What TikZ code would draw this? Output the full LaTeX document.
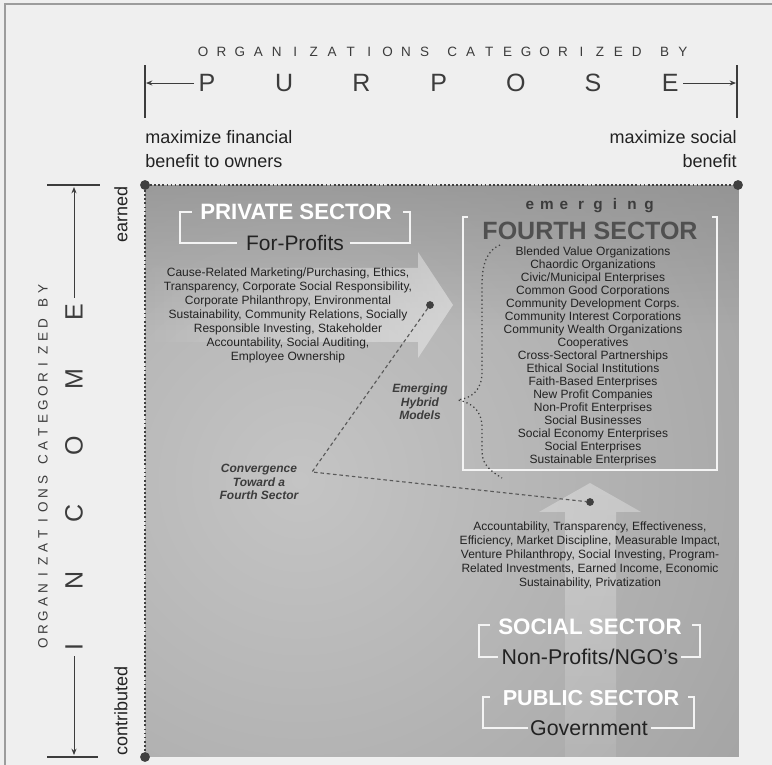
\documentclass[tikz,border=0pt]{standalone}
\usepackage{fontspec}
\setmainfont{Liberation Sans}
\usetikzlibrary{arrows.meta, fadings}

\definecolor{pagebg}{HTML}{EFEFEF}
\definecolor{framegray}{HTML}{9C9C9C}
\definecolor{sqlight}{HTML}{C4C4C4}
\definecolor{sqdark}{HTML}{888888}
\definecolor{inkdark}{HTML}{222222}
\definecolor{inkmid}{HTML}{3C3C3C}
\definecolor{dotgray}{HTML}{404040}
\definecolor{bracketwhite}{HTML}{F4F4F4}

\tikzfading[name=fadeleft, left color=transparent!100, right color=transparent!0]
\tikzfading[name=fadetop, top color=transparent!0, bottom color=transparent!100]
\tikzfading[name=fadeup, top color=transparent!0, bottom color=transparent!70]

% sizes are given in pt, the picture is laid out in pixels of the scan
\newcommand{\pxfont}[2]{\fontsize{#1}{#2}\selectfont}
\def\titleletters{O/0,R/1,G/2,A/3,N/4,I/5,Z/6,A/7,T/8,I/9,O/10,N/11,S/12,C/13.5,A/14.5,T/15.5,E/16.5,G/17.5,O/18.5,R/19.5,I/20.5,Z/21.5,E/22.5,D/23.5,B/25,Y/26}

\begin{document}
\begin{tikzpicture}[x=0.025cm, y=-0.025cm,
    every node/.style={inner sep=0pt},
    axisbar/.style={draw=inkmid, line width=0.8pt},
    axisarr/.style={-{Stealth[length=4.5pt,width=3.6pt]}, draw=inkmid, line width=0.7pt},
    spaced/.style={font=\pxfont{9.6}{10}, text=inkmid},
    bigletter/.style={font=\pxfont{17.8}{18}, text=inkmid},
    endnote/.style={font=\pxfont{12.8}{17.07}, text=inkdark},
    bracket/.style={draw=bracketwhite, line width=1pt},
    sectortitle/.style={font=\bfseries\pxfont{15.8}{16}, text=white},
    sectorsub/.style={font=\pxfont{14.9}{15}, text=inkdark},
    blocktext/.style={font=\pxfont{8.54}{9.96}, text=inkdark, align=center},
    listtext/.style={font=\pxfont{8.54}{9.25}, text=inkdark, align=center},
    hybridnote/.style={font=\bfseries\itshape\pxfont{8.54}{9.6}, text=inkmid, align=center},
    border/.style={draw=dotgray, line width=1.4pt, dash pattern=on 1.3pt off 1.6pt},
    convline/.style={draw=inkmid!85, line width=0.8pt, dash pattern=on 2.5pt off 2pt},
    corner/.style={circle, fill=dotgray, minimum size=7pt},
    pathdot/.style={circle, fill=dotgray, minimum size=5.5pt}
  ]
  \useasboundingbox (0,0) rectangle (772,765);
  \fill[pagebg] (0,0) rectangle (772,765);
  \draw[framegray, line width=0.8pt] (5,765) -- (5,4) -- (772,4);

  % the field
  \begin{scope}
    \clip (145,185) rectangle (739,757);
    \shade[inner color=sqlight, outer color=sqdark] (300,480) circle (1000);
    \fill[sqdark, fill opacity=0.55, path fading=fadetop] (145,185) rectangle (739,330);
    % faint arrows behind the text
    \fill[white, fill opacity=0.42, path fading=fadeleft]
      (145,268) -- (418,268) -- (418,252) -- (453,305) -- (418,358) -- (418,342) -- (145,342) -- cycle;
    \fill[white, fill opacity=0.32, path fading=fadeup]
      (565,757) -- (565,512) -- (539,512) -- (590,483) -- (641,512) -- (616,512) -- (616,757) -- cycle;
  \end{scope}
  \draw[white!88!gray, line width=0.6pt] (739,185) -- (739,757) -- (145,757);

  % purpose axis
  \foreach \ch/\k [count=\i] in \titleletters
    \node[spaced] (th-\i) at ({203+\k*18.46},52) {\ch};
  \foreach \ch [count=\i] in {P,U,R,P,O,S,E}
    \node[bigletter] (pu-\i) at ({207+(\i-1)*77.2},83) {\ch};
  \coordinate (purL) at (146,83);
  \coordinate (purR) at (736,83);
  \draw[axisbar] (145,65) -- (145,118);
  \draw[axisbar] (737,65) -- (737,118);
  \draw[axisarr, shorten <=3pt] (pu-1.west) -- (purL);
  \draw[axisarr, shorten <=3pt] (pu-7.east) -- (purR);
  \node[endnote, align=left, anchor=west] (finben) at (145,149) {maximize financial\\benefit to owners};
  \node[endnote, align=right, anchor=east] (socben) at (737,149) {maximize social\\benefit};

  % income axis
  \foreach \ch/\k [count=\i] in \titleletters
    \node[spaced, rotate=90] (tv-\i) at (43,{643-\k*13.6}) {\ch};
  \foreach \ch [count=\i] in {I,N,C,O,M,E}
    \node[bigletter, rotate=90] (inc-\i) at (74,{647-(\i-1)*67}) {\ch};
  \coordinate (incT) at (74,187);
  \coordinate (incB) at (74,755);
  \draw[axisbar] (47,185) -- (100,185);
  \draw[axisbar] (47,757) -- (98,757);
  \draw[axisarr, shorten <=4pt] (inc-6.east) -- (incT);
  \draw[axisarr, shorten <=4pt] (inc-1.west) -- (incB);
  \node[endnote, rotate=90, anchor=east] (earned) at (121,186) {earned};
  \node[endnote, rotate=90, anchor=west] (contrib) at (121,756) {contributed};

  % corners of the field
  \node[corner] (c-tl) at (145,185) {};
  \node[corner] (c-tr) at (738,185) {};
  \node[corner] (c-bl) at (145,757) {};
  \draw[border] (c-tl) -- (c-tr);
  \draw[border] (c-tl) -- (c-bl);

  % private sector
  \node[sectortitle] (priv) at (296,212) {PRIVATE SECTOR};
  \node[sectorsub] (forprof) at (295,243) {For-Profits};
  \draw[bracket] (192,212) -- (180,212) -- (180,243) -- (237,243);
  \draw[bracket] (350,243) -- (410,243) -- (410,212) -- (403,212);
  \node[blocktext] (privlist) at (288,315) {Cause-Related Marketing/Purchasing, Ethics,\\
    Transparency, Corporate Social Responsibility,\\Corporate Philanthropy, Environmental\\
    Sustainability, Community Relations, Socially\\Responsible Investing, Stakeholder\\
    Accountability, Social Auditing,\\Employee Ownership};

  % fourth sector
  \foreach \ch [count=\i] in {e,m,e,r,g,i,n,g}
    \node[font=\bfseries\pxfont{10.9}{11}, text=inkmid, anchor=base] (em-\i) at ({530+(\i-1)*17},209) {\ch};
  \node[font=\bfseries\pxfont{17.8}{18}, text=inkmid!90] (fourth) at (590,231) {FOURTH SECTOR};
  \draw[bracket] (468,217) -- (463,217) -- (463,470) -- (717,470) -- (717,217) -- (712,217);
  \node[listtext] (fourlist) at (593,356) {Blended Value Organizations\\Chaordic Organizations\\
    Civic/Municipal Enterprises\\Common Good Corporations\\Community Development Corps.\\
    Community Interest Corporations\\Community Wealth Organizations\\Cooperatives\\
    Cross-Sectoral Partnerships\\Ethical Social Institutions\\Faith-Based Enterprises\\
    New Profit Companies\\Non-Profit Enterprises\\Social Businesses\\
    Social Economy Enterprises\\Social Enterprises\\Sustainable Enterprises};

  % hybrids and convergence
  \node[hybridnote] (hybrid) at (420,402) {Emerging\\Hybrid\\Models};
  \draw[dotgray, line width=0.9pt, dotted]
    (500,245) .. controls (488,250) and (482,262) .. (482,285) -- (482,372)
    .. controls (482,390) and (472,398) .. (458,400)
    .. controls (472,403) and (482,410) .. (482,428) -- (482,452)
    .. controls (482,465) and (492,472) .. (502,478);
  \node[pathdot] (dot-priv) at (430,305) {};
  \node[pathdot] (dot-soc) at (590,502) {};
  \coordinate (conv) at (312,472);
  \draw[convline] (dot-priv) -- (conv) -- (dot-soc);
  \node[hybridnote] (convnote) at (259,482) {Convergence\\Toward a\\Fourth Sector};

  % social and public sectors
  \node[blocktext] (soclist) at (590,555) {Accountability, Transparency, Effectiveness,\\
    Efficiency, Market Discipline, Measurable Impact,\\Venture Philanthropy, Social Investing, Program-\\
    Related Investments, Earned Income, Economic\\Sustainability, Privatization};
  \node[sectortitle, font=\bfseries\pxfont{15.9}{16}] (soc) at (590,627) {SOCIAL SECTOR};
  \node[sectorsub, font=\pxfont{15.2}{15}] (ngo) at (590,657) {Non-Profits/NGO's};
  \draw[bracket] (490,625) -- (479,625) -- (479,657) -- (498,657);
  \draw[bracket] (681,657) -- (700,657) -- (700,625) -- (692,625);
  \node[sectortitle, font=\bfseries\pxfont{15.4}{16}] (pub) at (591,698) {PUBLIC SECTOR};
  \node[sectorsub, font=\pxfont{15.2}{15}] (gov) at (589,728) {Government};
  \draw[bracket] (490,697) -- (483,697) -- (483,728) -- (528,728);
  \draw[bracket] (651,728) -- (694,728) -- (694,697) -- (688,697);
\end{tikzpicture}
\end{document}
